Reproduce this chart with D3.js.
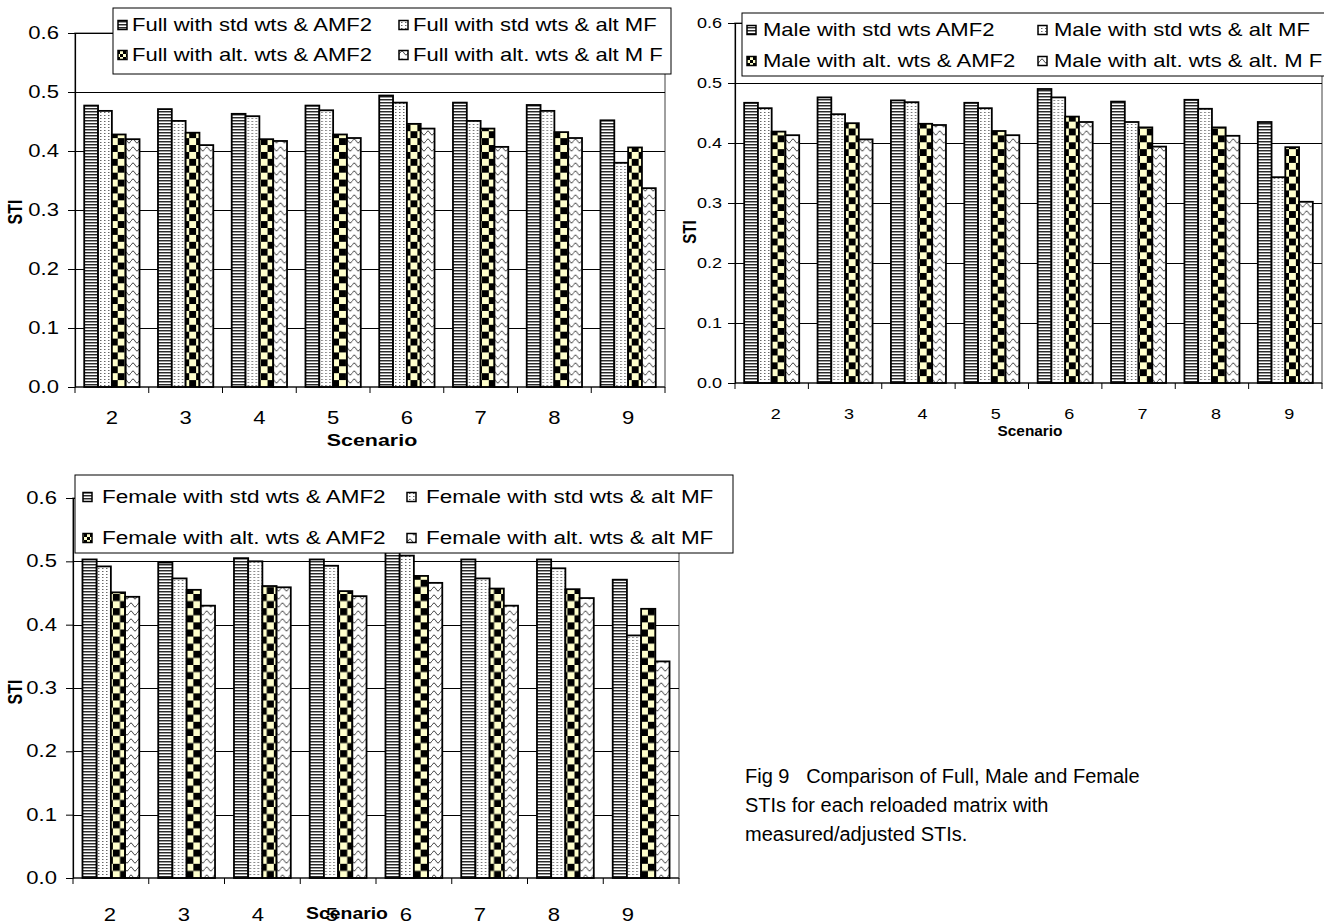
<!DOCTYPE html>
<html><head><meta charset="utf-8">
<script src="https://cdn.jsdelivr.net/npm/d3@7"></script>
<style>
body{margin:0;background:#fff;}
svg{display:block;font-family:"Liberation Sans",Arial,sans-serif;}
</style></head><body>
<svg id="fig" width="1324" height="924"></svg>
<script>
// Scenario categories and y-axis ticks
const scenarios = ["2","3","4","5","6","7","8","9"];
const yTicks = [0,0.1,0.2,0.3,0.4,0.5,0.6];

// Full STI
const fullStdAMF2  = [0.477,0.471,0.463,0.477,0.494,0.482,0.478,0.452];
const fullStdAltMF = [0.468,0.451,0.459,0.469,0.482,0.451,0.468,0.380];
const fullAltAMF2  = [0.428,0.431,0.420,0.428,0.446,0.438,0.432,0.406];
const fullAltAltMF = [0.420,0.410,0.417,0.422,0.438,0.407,0.422,0.337];

// Male STI
const maleStdAMF2  = [0.467,0.476,0.471,0.467,0.490,0.469,0.472,0.435];
const maleStdAltMF = [0.458,0.448,0.468,0.458,0.476,0.435,0.457,0.343];
const maleAltAMF2  = [0.419,0.433,0.432,0.420,0.444,0.426,0.426,0.393];
const maleAltAltMF = [0.413,0.406,0.430,0.413,0.435,0.394,0.412,0.302];

// Female STI
const femaleStdAMF2  = [0.503,0.498,0.505,0.503,0.518,0.503,0.503,0.471];
const femaleStdAltMF = [0.492,0.473,0.500,0.493,0.509,0.473,0.489,0.383];
const femaleAltAMF2  = [0.451,0.455,0.461,0.453,0.477,0.457,0.456,0.425];
const femaleAltAltMF = [0.444,0.430,0.459,0.445,0.466,0.430,0.442,0.342];

// Series names
const fullNames   = ["Full with std wts & AMF2","Full with std wts & alt MF","Full with alt. wts & AMF2","Full with alt. wts & alt M F"];
const maleNames   = ["Male with std wts AMF2","Male with std wts & alt MF","Male with alt. wts & AMF2","Male with alt. wts & alt. M F"];
const femaleNames = ["Female with std wts & AMF2","Female with std wts & alt MF","Female with alt. wts & AMF2","Female with alt. wts & alt MF"];

const captionLines = ["Fig 9   Comparison of Full, Male and Female","STIs for each reloaded matrix with","measured/adjusted STIs."];

const svg = d3.select("#fig");

// Fill patterns for the four series
const defs = svg.append("defs");
{
  const p0 = defs.append("pattern").attr("id","pat0").attr("patternUnits","userSpaceOnUse").attr("width",4).attr("height",3);
  p0.append("rect").attr("width",4).attr("height",3).attr("fill","#fff");
  p0.append("rect").attr("y",0).attr("width",4).attr("height",1).attr("fill","#2a2a2a");
  p0.append("rect").attr("y",1).attr("width",4).attr("height",1).attr("fill","#9a9a9a");

  const p1 = defs.append("pattern").attr("id","pat1").attr("patternUnits","userSpaceOnUse").attr("width",4).attr("height",3);
  p1.append("rect").attr("width",4).attr("height",3).attr("fill","#fff");
  p1.append("rect").attr("x",1).attr("y",1).attr("width",1.5).attr("height",1).attr("fill","#666");

  const p2 = defs.append("pattern").attr("id","pat2").attr("patternUnits","userSpaceOnUse").attr("width",6).attr("height",6);
  p2.append("rect").attr("width",6).attr("height",6).attr("fill","#ffffcc");
  p2.append("rect").attr("x",0).attr("y",0).attr("width",3).attr("height",3).attr("fill","#000");
  p2.append("rect").attr("x",3).attr("y",3).attr("width",3).attr("height",3).attr("fill","#000");

  const p3 = defs.append("pattern").attr("id","pat3").attr("patternUnits","userSpaceOnUse").attr("width",8).attr("height",8);
  p3.append("rect").attr("width",8).attr("height",8).attr("fill","#fff");
  p3.append("path").attr("d","M0,5 Q2,1 4,5 Q6,9 8,5").attr("fill","none").attr("stroke","#444").attr("stroke-width",1);
}

// checkerboard tile anchored to one bar, two cells across the bar width
let chkCount = 0;
function checkerFor(x, yBase, w){
  const id = "chk" + (chkCount++);
  const c = w/2;
  const p = defs.append("pattern").attr("id",id).attr("patternUnits","userSpaceOnUse")
    .attr("x",x).attr("y",yBase).attr("width",2*c).attr("height",2*c);
  p.append("rect").attr("width",2*c).attr("height",2*c).attr("fill","#ffffcc");
  p.append("rect").attr("x",0).attr("y",0).attr("width",c).attr("height",c).attr("fill","#000");
  p.append("rect").attr("x",c).attr("y",c).attr("width",c).attr("height",c).attr("fill","#000");
  return `url(#${id})`;
}

// text with a horizontal stretch about its anchor point
function txt(parent, x, y, s, o){
  return parent.append("text")
    .attr("transform",`translate(${x},${y}) rotate(${o.rotate||0}) scale(${o.sx||1},${o.sy||1})`)
    .attr("text-anchor",o.anchor||"start").attr("dy",o.dy||"0.35em")
    .attr("font-size",o.size).attr("font-weight",o.weight||"normal").attr("fill","#000")
    .text(s);
}

function drawChart(cfg){
  const g = svg.append("g");
  const y = d3.scaleLinear().domain([0,0.6]).range([cfg.bottom,cfg.top]);
  const x0 = d3.scaleBand().domain(scenarios).range([cfg.left,cfg.right]);
  const x1 = d3.scaleBand().domain([0,1,2,3]).range([0,x0.bandwidth()]).paddingInner(0).paddingOuter(0.667);
  const xl = d3.scaleBand().domain(scenarios).range(cfg.labelRange || [cfg.left,cfg.right]);

  // plot-area frame
  g.append("rect").attr("x",cfg.left).attr("y",cfg.top).attr("width",cfg.right-cfg.left).attr("height",cfg.bottom-cfg.top)
    .attr("fill","#fff").attr("stroke","#808080").attr("stroke-width",1.5);

  // gridlines
  g.append("g").selectAll("line").data(yTicks.filter(d=>d>0)).join("line")
    .attr("x1",cfg.left).attr("x2",cfg.right)
    .attr("y1",d=>Math.round(y(d))+0.5).attr("y2",d=>Math.round(y(d))+0.5)
    .attr("stroke","#000").attr("stroke-width",1);

  // bars
  const rows = scenarios.map((s,i)=>({s, vals: cfg.series.map(a=>a[i])}));
  g.append("g").selectAll("g").data(rows).join("g")
    .attr("transform",d=>`translate(${x0(d.s)},0)`)
    .selectAll("rect").data(d=>d.vals.map((v,k)=>({k,v,s:d.s}))).join("rect")
      .attr("x",d=>x1(d.k)).attr("width",x1.bandwidth())
      .attr("y",d=>y(d.v)).attr("height",d=>y(0)-y(d.v))
      .attr("fill",d=> d.k===2 ? checkerFor(x0(d.s)+x1(d.k), y(0), x1.bandwidth()) : `url(#pat${d.k})`)
      .attr("stroke","#000").attr("stroke-width",1.8);

  // y axis line and ticks
  const ya = g.append("g").attr("transform",`translate(${cfg.left},0)`)
    .call(d3.axisLeft(y).tickValues(yTicks).tickFormat("").tickSize(7).tickSizeOuter(0));
  ya.select(".domain").attr("stroke","#000").attr("stroke-width",1.2);
  ya.selectAll(".tick line").attr("stroke","#000");
  const fmt = d3.format(".1f");
  yTicks.forEach(t=>txt(g, cfg.left-cfg.yLabelGap, y(t), fmt(t), {size:cfg.tickFont, anchor:"end", sx:cfg.sx}));

  // x axis: baseline, boundary ticks, category labels
  g.append("line").attr("x1",cfg.left).attr("x2",cfg.right).attr("y1",y(0)).attr("y2",y(0)).attr("stroke","#000").attr("stroke-width",1.2);
  const bounds = scenarios.map(s=>x0(s)).concat([x0(scenarios[scenarios.length-1])+x0.bandwidth()]);
  g.append("g").selectAll("line").data(bounds).join("line")
    .attr("x1",d=>d).attr("x2",d=>d).attr("y1",y(0)).attr("y2",y(0)+6).attr("stroke","#000");
  scenarios.forEach(s=>txt(g, xl(s)+xl.bandwidth()/2, cfg.xTickY, s, {size:cfg.tickFont, anchor:"middle", sx:cfg.sx}));

  // axis titles
  txt(g, cfg.yLabel[0], cfg.yLabel[1], "STI", {size:cfg.yLabelFont, anchor:"middle", weight:"bold", rotate:-90, sy:cfg.sx});
  txt(g, cfg.xLabel[0], cfg.xLabel[1], "Scenario", {size:cfg.xLabelFont, anchor:"middle", weight:"bold", sx:cfg.xLabelSx});

  // legend
  const L = cfg.legend;
  const lg = g.append("g");
  lg.append("rect").attr("x",L.x).attr("y",L.y).attr("width",L.w).attr("height",L.h)
    .attr("fill","#fff").attr("stroke","#000").attr("stroke-width",1);
  cfg.names.forEach((name,k)=>{
    const cx = L.cols[k%2], cy = L.rows[Math.floor(k/2)];
    lg.append("rect").attr("x",cx).attr("y",cy-L.box/2).attr("width",L.box).attr("height",L.box)
      .attr("fill",`url(#pat${k})`).attr("stroke","#000").attr("stroke-width",1.5);
    txt(lg, cx+L.box+L.gap, cy, name, {size:L.font, sx:L.sx});
  });
}

drawChart({
  series:[fullStdAMF2,fullStdAltMF,fullAltAMF2,fullAltAltMF], names:fullNames,
  left:75, right:665, top:33, bottom:387, tickFont:17.5, sx:1.26, yLabelGap:16, xTickY:418,
  yLabel:[15,212], yLabelFont:16, xLabel:[372,440], xLabelFont:17, xLabelSx:1.26,
  legend:{x:113,y:8,w:558,h:66,rows:[25,55],cols:[118,399],box:9,gap:5,font:17.5,sx:1.26}
});

drawChart({
  series:[maleStdAMF2,maleStdAltMF,maleAltAMF2,maleAltAltMF], names:maleNames,
  left:735, right:1322, top:23, bottom:383, tickFont:15, sx:1.2, yLabelGap:13, xTickY:414,
  yLabel:[690,232], yLabelFont:15, xLabel:[1030,431], xLabelFont:14, xLabelSx:1.1,
  legend:{x:742,y:13,w:600,h:63,rows:[30,61],cols:[747,1038],box:9,gap:7,font:17.5,sx:1.26},
  labelRange:[739,1326]
});

drawChart({
  series:[femaleStdAMF2,femaleStdAltMF,femaleAltAMF2,femaleAltAltMF], names:femaleNames,
  left:73, right:679, top:498, bottom:878, tickFont:17.5, sx:1.26, yLabelGap:16, xTickY:915,
  yLabel:[15,692], yLabelFont:16, xLabel:[347,913], xLabelFont:17, xLabelSx:1.14,
  legend:{x:75,y:475,w:658,h:78,rows:[497,538],cols:[83,407],box:9,gap:10,font:18,sx:1.25},
  labelRange:[73,665]
});

// caption
svg.append("g").selectAll("text").data(captionLines).join("text")
  .attr("x",745).attr("y",(d,i)=>783+i*29).attr("font-size",20)
  .attr("xml:space","preserve").style("white-space","pre").text(d=>d);
</script>
</body></html>
